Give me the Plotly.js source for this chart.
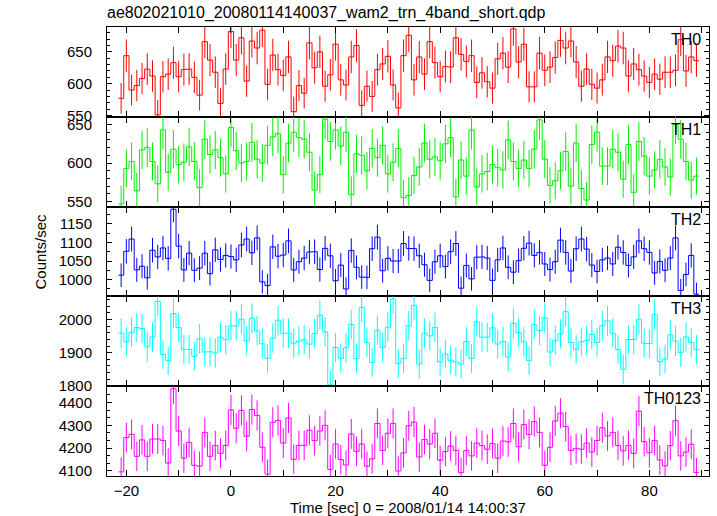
<!DOCTYPE html>
<html>
<head>
<meta charset="utf-8">
<script src="https://cdn.plot.ly/plotly-3.0.1.min.js"></script>
<style>html,body{margin:0;padding:0;background:#fff;}#chart{width:717px;height:516px;}</style>
</head>
<body>
<div id="chart"></div>
<script>
// Bin centre times [sec]
const timeSec = [
 -21,-20,-19,-18,-17,-16,-15,-14,-13,-12,
 -11,-10,-9,-8,-7,-6,-5,-4,-3,-2,
 -1,0,1,2,3,4,5,6,7,8,
 9,10,11,12,13,14,15,16,17,18,
 19,20,21,22,23,24,25,26,27,28,
 29,30,31,32,33,34,35,36,37,38,
 39,40,41,42,43,44,45,46,47,48,
 49,50,51,52,53,54,55,56,57,58,
 59,60,61,62,63,64,65,66,67,68,
 69,70,71,72,73,74,75,76,77,78,
 79,80,81,82,83,84,85,86,87,88,
 89];

const th0 = [
 577,644,590,597,608,623,612,551,611,615,
 633,611,622,623,610,582,666,637,618,569,
 623,682,637,672,604,667,656,684,599,645,
 622,613,642,556,597,585,664,625,650,596,
 614,662,606,598,642,660,566,596,580,622,
 631,643,598,562,644,676,606,642,615,666,
 633,611,627,626,672,646,635,644,602,617,
 603,593,639,648,626,686,634,662,595,595,
 648,621,626,641,668,656,667,634,596,623,
 599,593,606,642,636,659,656,612,631,622,
 612,602,615,607,618,618,621,669,620,642,
 636];

const th1 = [
 547,593,602,564,617,620,602,573,643,588,
 618,598,601,621,602,568,631,611,617,607,
 586,646,616,600,602,627,605,600,623,634,
 638,585,626,640,633,631,614,565,585,657,
 628,643,622,640,559,612,610,590,619,607,
 623,586,601,619,555,558,584,595,626,605,
 608,603,625,633,556,604,583,643,569,586,
 589,598,594,591,630,602,593,604,593,618,
 656,605,571,577,590,615,570,626,567,552,
 624,640,596,596,618,614,579,624,562,628,
 609,583,591,605,595,582,650,631,602,578,
 583];

const th2 = [
 1012,1076,1109,1026,1036,1005,1079,1061,1085,1057,
 1189,1090,1026,1071,1025,1031,1071,1016,1080,1054,
 1065,1062,1053,1093,1109,1072,1112,994,984,1088,
 1063,1066,1104,1026,1048,1058,1074,1075,1027,1084,
 1064,997,1039,975,1078,1033,1007,1006,1083,1114,
 1024,1057,1050,1050,1097,1084,1083,1064,1040,998,
 1048,1064,1035,1075,1097,977,1038,1002,1060,1061,
 1058,998,1053,1085,1033,1020,1051,1084,1098,1065,
 1073,1042,1027,1048,1106,1073,1023,1083,1109,1082,
 1039,1022,1053,1058,1042,1087,1073,1038,1061,1104,
 1083,1073,1018,1049,1025,1058,1112,971,1014,1065,
 961];

const th3 = [
 1959,1933,1961,1976,1973,1918,1948,2055,1895,1876,
 2018,1976,1910,1910,1889,1942,1902,1903,1899,1947,
 1939,1981,1981,2001,1936,2004,1966,1927,1883,1944,
 1998,1959,1959,1929,1935,1939,1926,1958,2013,1963,
 1803,1916,1883,1915,1985,1882,2037,1931,1871,1968,
 1916,1977,2062,1868,1883,1981,2043,1866,1959,1951,
 1976,1872,1896,1877,1872,1866,1934,1883,1993,1947,
 1947,1975,1926,1934,1887,1989,1961,1933,1876,1985,
 1967,2005,1902,1937,1957,2024,1931,1910,1933,1937,
 1955,1931,1981,1996,1959,1910,1850,1940,1940,2001,
 1929,1927,2015,1873,1881,1954,1935,1901,1948,1931,
 1910];

const th0123 = [
 4096,4246,4260,4164,4236,4164,4240,4240,4233,4135,
 4460,4275,4156,4225,4125,4121,4269,4164,4211,4177,
 4212,4367,4287,4365,4252,4369,4343,4204,4086,4313,
 4321,4222,4332,4151,4212,4212,4278,4233,4275,4300,
 4107,4218,4150,4126,4262,4186,4218,4121,4153,4308,
 4190,4265,4308,4100,4179,4298,4314,4161,4238,4218,
 4265,4147,4185,4209,4190,4093,4189,4166,4222,4211,
 4195,4220,4156,4231,4227,4308,4206,4303,4260,4316,
 4269,4125,4204,4319,4353,4294,4190,4199,4195,4222,
 4183,4233,4289,4253,4269,4212,4188,4212,4177,4362,
 4228,4180,4233,4148,4122,4211,4320,4166,4183,4217,
 4093];

const panelNames = ['TH0','TH1','TH2','TH3','TH0123'];
const seriesList = [th0, th1, th2, th3, th0123];
const binWidth = 1;

const colors = ['#ff0000','#00ee00','#0000ff','#00ffff','#ff00ff'];
const yRanges = [[548,689],[543.5,660],[955,1196],[1799,2070],[4078,4471]];
const yDticks = [50,50,50,100,100];
const yMinor = [10,10,25,20,100/3];
const yTick0 = [550,550,1000,1800,4100];

const FONT = 'Liberation Sans, Arial, Helvetica, sans-serif';
const traces = [];
const layout = {
  width: 717, height: 516,
  margin: {l: 107, r: 8, t: 27, b: 40},
  paper_bgcolor: '#fff', plot_bgcolor: '#fff',
  showlegend: false,
  font: {family: FONT, size: 15, color: '#000'},
  title: {text: 'ae802021010_20080114140037_wam2_trn_4band_short.qdp',
          x: 107/717, xref: 'container', xanchor: 'left',
          y: 1 - 12/516, yref: 'container', yanchor: 'middle',
          font: {family: FONT, size: 16, color: '#000'}},
  annotations: []
};

const n = panelNames.length;
for (let i = 0; i < n; i++) {
  const ax = i + 1;
  const xa = 'x' + ax, ya = 'y' + ax;
  const vals = seriesList[i];
  // step histogram outline built from bin centres
  const sx = [], sy = [];
  for (let k = 0; k < timeSec.length; k++) {
    sx.push(timeSec[k] - binWidth/2, timeSec[k] + binWidth/2);
    sy.push(vals[k], vals[k]);
  }
  traces.push({type: 'scatter', mode: 'lines', x: sx, y: sy, xaxis: xa, yaxis: ya,
               line: {color: colors[i], width: 1, shape: 'linear'}, hoverinfo: 'skip'});
  traces.push({type: 'scatter', mode: 'markers', x: timeSec, y: vals, xaxis: xa, yaxis: ya,
               marker: {size: 1, color: 'rgba(0,0,0,0)'},
               error_y: {type: 'sqrt', visible: true, color: colors[i], thickness: 1, width: 0}});

  const top = 1 - i / n, bot = 1 - (i + 1) / n;
  layout['xaxis' + (ax === 1 ? '' : ax)] = {
    domain: [0, 1], anchor: ya, range: [-23.7, 91.4],
    tick0: 0, dtick: 20, ticks: 'inside', ticklen: 6, tickwidth: 1, tickcolor: '#000',
    minor: {dtick: 10, tick0: 0, ticks: 'inside', ticklen: 6, tickwidth: 1, tickcolor: '#000', showgrid: false},
    showline: true, linecolor: '#000', linewidth: 1, mirror: 'allticks',
    showgrid: false, zeroline: false,
    showticklabels: i === n - 1,
    tickfont: {family: FONT, size: 15, color: '#000'},
    ticklabelstandoff: 1
  };
  layout['yaxis' + (ax === 1 ? '' : ax)] = {
    domain: [bot, top], anchor: xa, range: yRanges[i],
    tick0: yTick0[i], dtick: yDticks[i], ticks: 'inside', ticklen: 5, tickwidth: 1, tickcolor: '#000',
    minor: {dtick: yMinor[i], tick0: yTick0[i], ticks: 'inside', ticklen: 3, tickwidth: 1, tickcolor: '#000', showgrid: false},
    showline: true, linecolor: '#000', linewidth: 1, mirror: 'allticks',
    showgrid: false, zeroline: false,
    tickfont: {family: FONT, size: 15, color: '#000'},
    ticklabelstandoff: 11
  };
  layout.annotations.push({text: panelNames[i], xref: 'paper', yref: 'paper',
    x: (703 - 107) / 602, y: top, xanchor: 'right', yanchor: 'top', yshift: -2,
    showarrow: false, font: {family: FONT, size: 16, color: '#000'}});
}
layout.annotations.push({text: 'Counts/sec', xref: 'paper', yref: 'paper',
  x: (40 - 107) / 602, y: 0.5, xanchor: 'center', yanchor: 'middle', textangle: -90,
  showarrow: false, font: {family: FONT, size: 15, color: '#000'}});
layout.annotations.push({text: 'Time [sec] 0 = 2008/01/14 14:00:37', xref: 'paper', yref: 'paper',
  x: 0.5, y: (476 - 507) / 449, xanchor: 'center', yanchor: 'middle',
  showarrow: false, font: {family: FONT, size: 15, color: '#000'}});

Plotly.newPlot('chart', traces, layout, {staticPlot: true, displayModeBar: false});
</script>
</body>
</html>
